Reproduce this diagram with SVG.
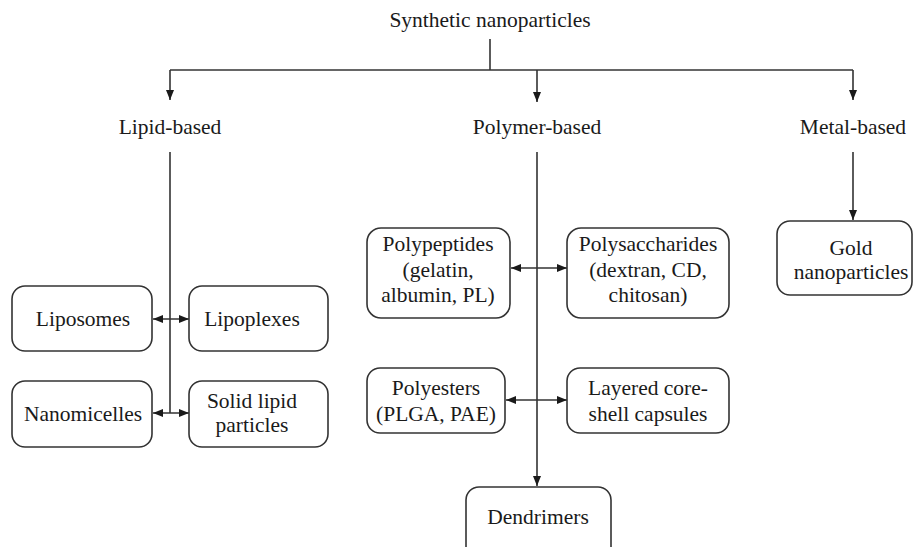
<svg xmlns="http://www.w3.org/2000/svg" width="914" height="547" viewBox="0 0 914 547">
<style>
text{font-family:'Liberation Serif','Times New Roman',serif;font-size:21.5px;fill:#1a1a1a;text-anchor:middle}
.box{fill:#fff;stroke:#333;stroke-width:1.6}
.ln{fill:none;stroke:#333;stroke-width:1.6}
</style>
<defs>
<marker id="ah" viewBox="0 0 10 8" refX="10" refY="4" markerWidth="10" markerHeight="8" markerUnits="userSpaceOnUse" orient="auto-start-reverse">
<path d="M0,0 L10,4 L0,8 Z" fill="#1a1a1a"/>
</marker>
</defs>
<rect width="914" height="547" fill="#fff"/>
<g id="connectors">
<path class="ln" d="M490,39 V70"/>
<path class="ln" d="M170,70 H853"/>
<path class="ln" d="M170,70 V100" marker-end="url(#ah)"/>
<path class="ln" d="M537,70 V102" marker-end="url(#ah)"/>
<path class="ln" d="M853,70 V100" marker-end="url(#ah)"/>
<path class="ln" d="M170,152 V413"/>
<path class="ln" d="M537,152 V486" marker-end="url(#ah)"/>
<path class="ln" d="M853,152 V220" marker-end="url(#ah)"/>
<path class="ln" d="M153,319 H189" marker-start="url(#ah)" marker-end="url(#ah)"/>
<path class="ln" d="M153,413 H189" marker-start="url(#ah)" marker-end="url(#ah)"/>
<path class="ln" d="M511,268 H567" marker-start="url(#ah)" marker-end="url(#ah)"/>
<path class="ln" d="M506,400 H567" marker-start="url(#ah)" marker-end="url(#ah)"/>
</g>
<g id="synthetic"><text x="490" y="27">Synthetic nanoparticles</text></g>
<g id="lipid"><text x="170" y="134">Lipid-based</text></g>
<g id="polymer"><text x="537" y="134">Polymer-based</text></g>
<g id="metal"><text x="853" y="134">Metal-based</text></g>
<g id="liposomes"><rect class="box" x="12" y="286" width="140" height="65" rx="13"/><text x="83" y="326">Liposomes</text></g>
<g id="lipoplexes"><rect class="box" x="189" y="286" width="139" height="65" rx="13"/><text x="252" y="326">Lipoplexes</text></g>
<g id="nanomicelles"><rect class="box" x="12" y="381" width="140" height="66" rx="13"/><text x="83" y="421">Nanomicelles</text></g>
<g id="solidlipid"><rect class="box" x="189" y="381" width="139" height="66" rx="13"/><text x="252" y="408">Solid lipid</text><text x="252" y="432">particles</text></g>
<g id="polypeptides"><rect class="box" x="367" y="228" width="143" height="90" rx="14"/><text x="438" y="251">Polypeptides</text><text x="438" y="277">(gelatin,</text><text x="438" y="302">albumin, PL)</text></g>
<g id="polysaccharides"><rect class="box" x="567" y="228" width="162" height="90" rx="14"/><text x="648" y="251">Polysaccharides</text><text x="648" y="277">(dextran, CD,</text><text x="648" y="302">chitosan)</text></g>
<g id="polyesters"><rect class="box" x="367" y="368" width="138" height="65" rx="13"/><text x="436" y="395">Polyesters</text><text x="436" y="421">(PLGA, PAE)</text></g>
<g id="layered"><rect class="box" x="567" y="368" width="162" height="65" rx="13"/><text x="648" y="395">Layered core-</text><text x="648" y="421">shell capsules</text></g>
<g id="gold"><rect class="box" x="777" y="221" width="135" height="74" rx="13"/><text x="851" y="255">Gold</text><text x="851" y="279">nanoparticles</text></g>
<g id="dendrimers"><rect class="box" x="466" y="487" width="145" height="75" rx="13"/><text x="538" y="524">Dendrimers</text></g>
</svg>
